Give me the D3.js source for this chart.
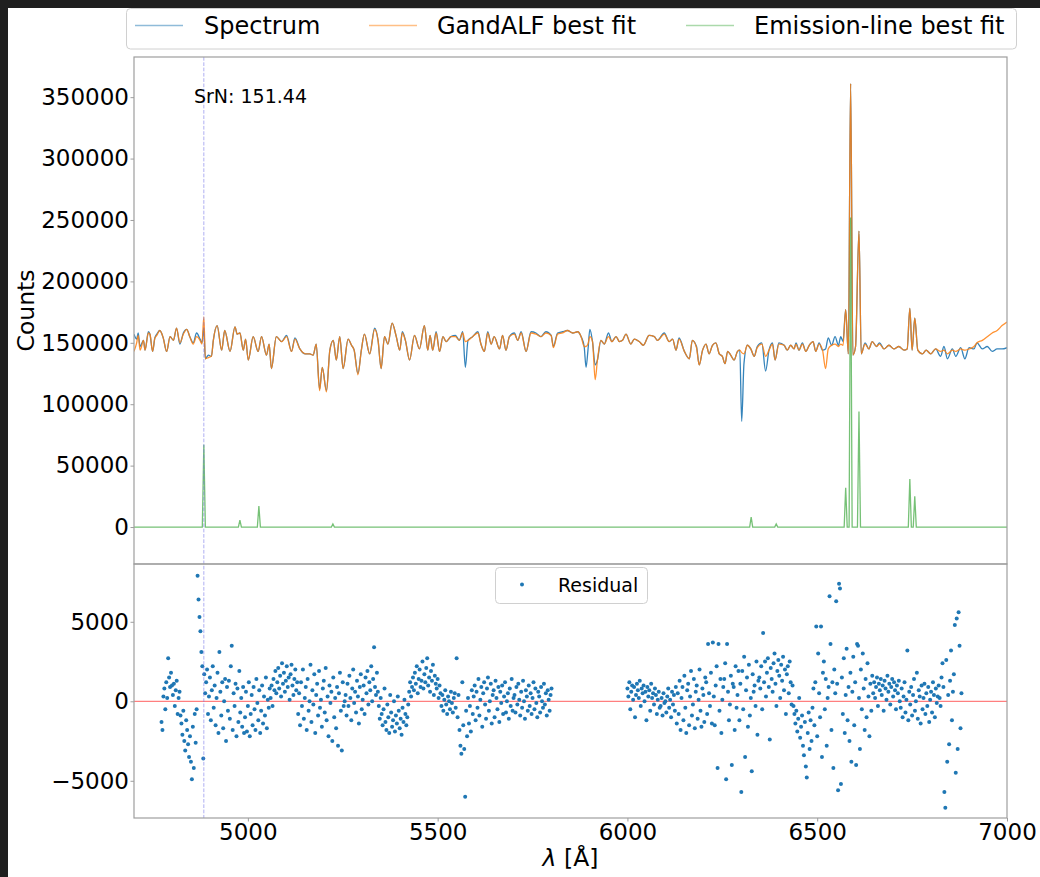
<!DOCTYPE html>
<html>
<head>
<meta charset="utf-8">
<script src="https://cdn.jsdelivr.net/npm/d3@7"></script>
<style>
  html, body { margin: 0; padding: 0; background: #ffffff; }
  svg { display: block; font-family: "DejaVu Sans", sans-serif; }
</style>
</head>
<body>
<svg id="chart" width="1040" height="877"></svg>
<script>
// ---------------------------------------------------------------
// Spectrum and model (counts, stored in units of 1000)
// ---------------------------------------------------------------
const FLUX_UNIT = 1000;
const wavelength = [
  4700,4707,4711,4716,4725,4729,4738,4742,4749,4755,
  4760,4768,4777,4786,4795,4804,4812,4821,4830,4839,
  4847,4856,4865,4874,4879,4884,4888,4896,4904,4909,
  4919,4931,4939,4953,4966,4972,4979,4988,4994,5001,
  5014,5027,5036,5049,5056,5062,5075,5089,5102,5115,
  5124,5137,5151,5163,5172,5180,5189,5196,5207,5216,
  5225,5233,5242,5251,5264,5273,5280,5290,5299,5307,
  5321,5334,5343,5351,5360,5369,5380,5391,5400,5407,
  5415,5426,5439,5452,5465,5474,5480,5487,5496,5505,
  5514,5522,5535,5547,5557,5566,5573,5580,5592,5606,
  5614,5623,5632,5641,5649,5663,5671,5680,5689,5702,
  5711,5720,5733,5746,5759,5772,5785,5799,5805,5816,
  5829,5842,5856,5869,5878,5886,5891,5896,5901,5908,
  5915,5921,5930,5939,5950,5959,5970,5979,5987,5996,
  6009,6018,6031,6042,6057,6071,6079,6097,6110,6119,
  6128,6136,6150,6163,6171,6182,6189,6198,6207,6215,
  6224,6233,6242,6250,6257,6264,6272,6281,6290,6296,
  6301,6307,6316,6325,6334,6342,6354,6364,6373,6382,
  6389,6399,6413,6421,6430,6439,6444,6452,6461,6470,
  6479,6489,6496,6505,6514,6522,6529,6538,6547,6556,
  6562,6568,6575,6582,6588,6594,6601,6610,6616,6626,
  6636,6645,6656,6664,6676,6689,6702,6715,6729,6737,
  6744,6750,6757,6765,6777,6787,6799,6812,6825,6834,
  6843,6856,6865,6878,6889,6900,6913,6921,6935,6948,
  6961,6974,6987,7000
];
const spectrumK = [
  157,153,158,147,152,144,159,157,143,154,
  157,160,154,143,155,152,162,149,158,161,
  155,150,158,153,150,162,137,140,139,152,
  164,144,160,143,163,157,158,144,153,136,
  155,143,155,140,149,129,155,151,156,143,
  154,145,141,141,140,149,112,130,111,144,
  152,136,155,129,153,148,144,125,144,157,
  141,162,152,129,155,149,166,155,144,159,
  152,136,156,145,164,144,156,144,159,143,
  155,151,155,156,152,159,130,152,155,159,
  149,143,159,149,155,145,156,144,155,158,
  152,159,143,159,158,155,159,156,147,158,
  159,160,158,159,155,147,130,144,161,151,
  132,136,152,149,158,151,155,151,152,157,
  149,153,151,148,156,155,152,158,151,153,
  144,154,143,137,152,147,132,144,149,141,
  148,150,141,139,133,143,140,136,143,144,
  86,133,148,145,139,147,150,127,144,150,
  136,150,148,144,148,145,150,144,150,143,
  148,151,143,150,144,145,154,148,155,148,
  155,151,177,141,361,140,147,241,141,150,
  145,151,147,150,145,148,145,147,144,145,
  178,144,170,144,141,144,141,145,139,147,
  137,145,139,146,137,146,145,150,145,147,
  143,145,145,146
];
const modelK = [
  143,150,156,144,152,144,158,157,143,154,
  156,160,154,143,155,152,162,150,157,161,
  155,149,155,152,149,171,137,138,139,152,
  164,144,160,143,163,157,158,144,153,136,
  155,143,155,140,149,129,155,151,155,143,
  153,145,141,141,140,149,111,130,110,144,
  152,136,155,129,153,148,144,124,144,157,
  141,161,152,129,155,149,166,155,144,158,
  152,136,156,145,164,144,156,144,158,143,
  155,151,155,155,152,158,151,152,155,158,
  149,143,158,149,155,145,156,144,155,157,
  152,158,143,158,157,155,158,156,146,157,
  158,160,158,159,155,147,147,149,155,151,
  120,136,152,149,155,151,155,151,152,157,
  149,153,151,148,156,155,152,157,151,153,
  144,153,143,137,152,146,132,144,149,141,
  148,150,141,139,133,143,140,136,143,144,
  142,141,148,145,139,146,149,139,144,149,
  136,149,148,144,148,145,149,144,149,143,
  148,151,143,149,144,129,145,148,149,147,
  149,148,177,141,361,140,147,241,141,149,
  145,151,147,149,145,148,145,147,144,145,
  178,144,170,144,141,144,141,145,143,144,
  141,144,143,145,144,145,147,150,152,155,
  158,160,164,167
];

// Emission-line fit (units of 1000 counts)
const emissionWave = [
  4700,4880,4884,4888,4975,4979,4983,5025,5029,5033,
  5220,5224,5228,6322,6326,6330,6388,6392,6396,6571,
  6575,6579,6584,6588,6592,6606,6610,6614,6740,6744,
  6748,6753,6757,6761,7000
];
const emissionK = [
  0,0,67,0,0,5.7,0,0,17,0,
  0,2.5,0,0,8,0,0,2.5,0,0,
  32,0,0,252,0,0,94,0,0,39,
  0,0,25,0,0
];

// ---------------------------------------------------------------
// Residuals (counts, stored in units of 100), two contiguous runs
// ---------------------------------------------------------------
const RESID_UNIT = 100;
const RESID_STEP = 2.5;
const residStartA = 4772.5;
const residualsA = [
  -13,-18,3,8,-5,12,2,27,15,9,
  18,10,4,11,-3,7,13,-8,2,6,
  -9,-14,-21,-6,-25,-31,-12,-18,-27,-35,
  -22,-38,-49,-16,-42,-8,-26,-5,
  79,64,53,44,31,22,-36,17,5,12,
  20,-8,3,15,-12,7,22,-4,10,-15, 2,18,-20,31,6,-9,12,-17,0,14,
  -25,9,-6,13,-11,22,35,-18,5,-3, 11,-22,8,-13,19,-7,2,-16,9,-20,
  -10,6,-19,-3,12,-22,-8,4,-15,9, -5,-18,14,-1,-12,7,-20,-6,10,-14, 3,-9,15,-17,1,-4,8,
  2,10,-3,14,7,19,5,12,21,8, 16,3,24,11,18,6,13,22,9,15, 1,17,23,10,4,14,20,7,12,
  -8,5,-15,12,-3,20,-11,2,9,-18, 14,-6,0,23,-13,7,-2,17,-20,4,
  11,-9,19,-4,1,-16,8,13,-7,21, -12,3,-22,10,-1,6,-25,15,-10,2,
  -17,9,-28,5,18,-6,-31,12,-3,0,
  4,-9,11,-3,16,2,-12,8,20,-1, 6,-7,13,3,-14,9,17,-5,1,10,
  -8,15,5,19,-2,12,7,22,0,14, 34,9,4,18,
  6,-3,-11,2,-8,-15,-5,8,-13,-18, -2,-10,-20,4,-7,-16,-12,0,-19,-9,
  -14,3,-6,-17,-11,-21,-4,-13,1,-8, -15,-10,
  -2,6,12,3,9,15,7,18,11,22, 5,14,20,9,13,25,8,17,12,21,
  27,10,15,6,19,13,23,4,16,11, 8,14,2,10,5,
  -3,4,-6,1,7,-2,-8,3,0,-5, 6,-1,-7,2,5,-4,27,
  -10,4,-18,-28,-33,12,-15,-30,-60,-6,-22,2,-14,-3,-19,7,
  -8,3,10,-12,6,-4,14,-9,1,9, -16,5,12,-2,-11,8,15,-6,0,11,
  -14,4,7,-10,13,2,-5,9,-13,6, -1,10,-8,3,12,-7,0,5,-11,8, -3,14,-6,2,
  4,-7,9,-2,11,1,-9,6,-4,13, 0,-11,7,3,-6,10,-3,5,-8,2,
  12,-5,8,-1,-10,6,3,-7,9,0, -4,11,-2,5,-9,7,1,-6,4,8
];
const residStartB = 6000;
const residualsB = [
  8,3,12,-5,6,10,1,9,-10,4, 11,7,2,13,-3,8,5,10,0,6,
  -12,9,3,7,-6,11,2,5,-2,8, 4,-8,1,6,-4,
  -3,2,-9,5,-1,0,-7,3,8,-4,1,-10,6,-2,4,-6,9,
  -14,5,-8,13,-18,2,9,-12,16,-4, -20,7,11,-15,3,19,-9,-2,14,-17,
  6,10,-11,1,20,-6,-16,8,4,-13, 15,
  12,-8,36,5,-3,18,-14,37,3,-15, 10,22,-42,36,-6,14,-20,1,9,14,
  24,-49,36,6,-12,-2,16,-40,11,9, -18,22,-4,4,19,-12,11,-57,19,-5,
  28,-35,7,15,-16,23,-9,2,-44,17, 6,10,-3,25,-21,13,
  15,8,22,-5,43,12,25,3,18,27, 9,-24,21,14,6,24,30,11,-3,19,
  26,16,2,23,13,28,7,20,-8,17, 22,5,25,12,-2,10,
  -3,-8,-14,-6,-19,-11,2,-23,-16,-9, -28,-34,-13,-41,-48,-20,-7,-30,-12,-25, -4,
  8,-15,12,47,-22,30,5,-10,47,-35, 18,25,-5,14,-28,2,9,66,36,-18,
  12,-42,20,5,63,11,-56,74,
  71,-52,15,-8,27,-20,4,33,-12,9, -25,18,-38,6,28,-15,12,-40,36,35,
  2,-30,20,-5,30,8,-18,14,-10,24, 3,-22,11,-6,16,
  5,12,2,9,15,-3,11,7,14,4, 10,-6,13,8,1,16,6,11,-2,9, 14,3,12,7,-5,10,5,13,0,
  -4,8,-10,3,12,-7,1,32,-12,6, -2,9,-9,4,14,-6,0,18,-11,7,
  3,-14,10,-5,2,11,-8,5,-3,9, -13,1,6,-7,12,4,-10,8,-1,3,
  10,2,-3,15,24,9,-57,-67,26,-38, 4,-27,13,32,-12,6,17,48,-45,52,
  -30,56,35,-17,5
];

// Axis ticks and annotations
const xTicks = [5000, 5500, 6000, 6500, 7000];
const countTicks = [0, 50000, 100000, 150000, 200000, 250000, 300000, 350000];
const residTicks = [-5000, 0, 5000];
const markerWave = 4884;
const snrLabel = "SrN: 151.44";
const legendLabels = ["Spectrum", "GandALF best fit", "Emission-line best fit"];

// ---------------------------------------------------------------
// Layout
// ---------------------------------------------------------------
const W = 1040, H = 877;
const left = 134, right = 1007;
const topY = 57, midY = 564, botY = 818;
const C = { blue: "#1f77b4", orange: "#ff7f0e", green: "#2ca02c", spine: "#9e9e9e" };

const svg = d3.select("#chart");

// dark window edge
svg.append("rect").attr("x", 0).attr("y", 0).attr("width", W).attr("height", 8).attr("fill", "#1f1f1f");
svg.append("rect").attr("x", 0).attr("y", 0).attr("width", 8).attr("height", H).attr("fill", "#1f1f1f");

const x = d3.scaleLinear().domain([4700, 7000]).range([left, right]);
const yTop = d3.scaleLinear().domain([-30100, 382700]).range([midY, topY]);
const yBot = d3.scaleLinear().domain([-7340, 8635]).range([botY, midY]);

const defs = svg.append("defs");
defs.append("clipPath").attr("id", "clipTop").append("rect")
  .attr("x", left).attr("y", topY).attr("width", right - left).attr("height", midY - topY);
defs.append("clipPath").attr("id", "clipBot").append("rect")
  .attr("x", left).attr("y", midY).attr("width", right - left).attr("height", botY - midY);

// ---------------- top panel ----------------
const specData = wavelength.map((w, i) => ({ w, v: spectrumK[i] * FLUX_UNIT }));
const modelData = wavelength.map((w, i) => ({ w, v: modelK[i] * FLUX_UNIT }));
const emData = emissionWave.map((w, i) => ({ w, v: emissionK[i] * FLUX_UNIT }));

const smoothTop = d3.line().x(d => x(d.w)).y(d => yTop(d.v)).curve(d3.curveMonotoneX);
const lineTop = d3.line().x(d => x(d.w)).y(d => yTop(d.v));
const gTop = svg.append("g").attr("clip-path", "url(#clipTop)");
gTop.append("path").datum(specData).attr("d", smoothTop)
  .attr("fill", "none").attr("stroke", C.blue).attr("stroke-width", 1.3).attr("stroke-opacity", 0.9);
gTop.append("path").datum(modelData).attr("d", smoothTop)
  .attr("fill", "none").attr("stroke", C.orange).attr("stroke-width", 1.3).attr("stroke-opacity", 0.85);
gTop.append("path").datum(emData).attr("d", lineTop)
  .attr("fill", "none").attr("stroke", C.green).attr("stroke-width", 1.3).attr("stroke-opacity", 0.65);

// ---------------- bottom panel ----------------
const residData = residualsA.map((v, i) => ({ w: residStartA + i * RESID_STEP, v: v * RESID_UNIT }))
  .concat(residualsB.map((v, i) => ({ w: residStartB + i * RESID_STEP, v: v * RESID_UNIT })));

const gBot = svg.append("g").attr("clip-path", "url(#clipBot)");
gBot.append("line")
  .attr("x1", left).attr("x2", right).attr("y1", yBot(0)).attr("y2", yBot(0))
  .attr("stroke", "red").attr("stroke-opacity", 0.5).attr("stroke-width", 1.3);
gBot.selectAll("circle").data(residData).join("circle")
  .attr("cx", d => x(d.w)).attr("cy", d => yBot(d.v)).attr("r", 2)
  .attr("fill", C.blue);

// vertical marker across both panels
svg.append("line")
  .attr("x1", x(markerWave)).attr("x2", x(markerWave)).attr("y1", topY).attr("y2", botY)
  .attr("stroke", "#7070e8").attr("stroke-opacity", 0.55).attr("stroke-width", 1)
  .attr("stroke-dasharray", "3.7,1.6");

svg.append("text").attr("x", 194).attr("y", 103)
  .attr("font-size", 19).attr("fill", "#000").text(snrLabel);

// ---------------- axes ----------------
function styleAxis(g, size) {
  g.select(".domain").remove();
  g.selectAll(".tick line").attr("stroke", C.spine).attr("stroke-width", 1);
  g.selectAll(".tick text").attr("font-size", size).attr("fill", "#000")
    .attr("font-family", "DejaVu Sans, sans-serif");
}

svg.append("g").attr("transform", `translate(${left},0)`)
  .call(d3.axisLeft(yTop).tickValues(countTicks).tickSize(3.5).tickPadding(1.5).tickFormat(d3.format("d")))
  .call(g => styleAxis(g, 23));

svg.append("g").attr("transform", `translate(${left},0)`)
  .call(d3.axisLeft(yBot).tickValues(residTicks).tickSize(3.5).tickPadding(1.5).tickFormat(d3.format("d")))
  .call(g => styleAxis(g, 23));

svg.append("g").attr("transform", `translate(0,${botY})`)
  .call(d3.axisBottom(x).tickValues(xTicks).tickSize(3.5).tickPadding(2).tickFormat(d3.format("d")))
  .call(g => styleAxis(g, 23));

// panel frames
[[topY, midY], [midY, botY]].forEach(([a, b]) => {
  svg.append("rect").attr("x", left).attr("y", a).attr("width", right - left).attr("height", b - a)
    .attr("fill", "none").attr("stroke", C.spine).attr("stroke-width", 1.2);
});

// axis labels
svg.append("text").attr("transform", `translate(34,${(topY + midY) / 2}) rotate(-90)`)
  .attr("text-anchor", "middle").attr("font-size", 23.5).attr("fill", "#000").text("Counts");

const xl = svg.append("text").attr("x", (left + right) / 2).attr("y", 866)
  .attr("text-anchor", "middle").attr("font-size", 23.5).attr("fill", "#000");
xl.append("tspan").attr("font-style", "italic").text("λ");
xl.append("tspan").text(" [Å]");

// ---------------- legends ----------------
const leg = svg.append("g");
leg.append("rect").attr("x", 126.5).attr("y", 8.5).attr("width", 890).attr("height", 40.5).attr("rx", 4)
  .attr("fill", "#fff").attr("fill-opacity", 0.85).attr("stroke", "#d0d0d0").attr("stroke-width", 1);
const legendItems = [
  { label: legendLabels[0], color: C.blue, op: 0.5, x0: 135, tx: 204 },
  { label: legendLabels[1], color: C.orange, op: 0.5, x0: 369, tx: 437 },
  { label: legendLabels[2], color: C.green, op: 0.4, x0: 686, tx: 754 }
];
legendItems.forEach(it => {
  leg.append("line").attr("x1", it.x0).attr("x2", it.x0 + 48).attr("y1", 25.5).attr("y2", 25.5)
    .attr("stroke", it.color).attr("stroke-opacity", it.op).attr("stroke-width", 1.5);
  leg.append("text").attr("x", it.tx).attr("y", 34).attr("font-size", 24).attr("fill", "#000").text(it.label);
});

const leg2 = svg.append("g");
leg2.append("rect").attr("x", 495.5).attr("y", 567.5).attr("width", 152).attr("height", 36).attr("rx", 4)
  .attr("fill", "#fff").attr("fill-opacity", 0.85).attr("stroke", "#d0d0d0").attr("stroke-width", 1);
leg2.append("circle").attr("cx", 522).attr("cy", 584.5).attr("r", 2).attr("fill", C.blue);
leg2.append("text").attr("x", 558).attr("y", 591.5).attr("font-size", 19).attr("fill", "#000").text("Residual");
</script>
</body>
</html>
